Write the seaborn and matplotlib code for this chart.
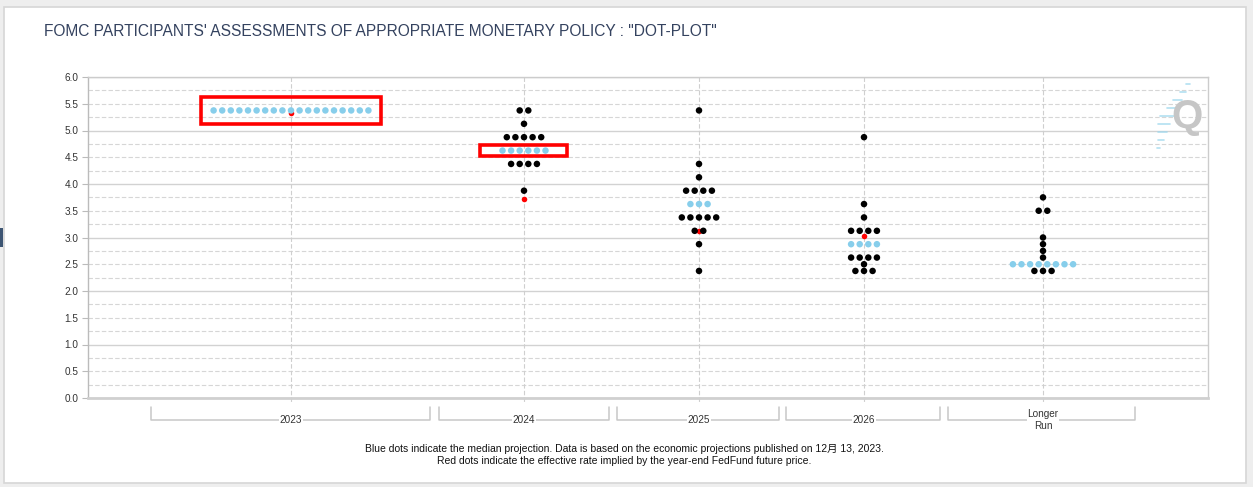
import numpy as np
import pandas as pd
import seaborn as sns
import matplotlib.pyplot as plt
import matplotlib.transforms as mtransforms
from matplotlib.patches import Rectangle
import warnings
warnings.filterwarnings('ignore')

#----------------data----------------#
years = ['2023', '2024', '2025', '2026', 'Longer\nRun']

rates_2023 = [5.375]
counts_2023 = [19]
rates_2024 = [5.375, 5.125, 4.875, 4.625, 4.375, 3.875]
counts_2024 = [2, 1, 5, 6, 4, 1]
rates_2025 = [5.375, 4.375, 4.125, 3.875, 3.625, 3.375, 3.125, 2.875, 2.375]
counts_2025 = [1, 1, 1, 4, 3, 5, 2, 1, 1]
rates_2026 = [4.875, 3.625, 3.375, 3.125, 2.875, 2.625, 2.5, 2.375]
counts_2026 = [1, 1, 1, 4, 4, 4, 1, 3]
rates_lr = [3.75, 3.5, 3.0, 2.875, 2.75, 2.625, 2.5, 2.375]
counts_lr = [1, 2, 1, 1, 1, 1, 8, 3]

medians = [5.375, 4.625, 3.625, 2.875, 2.5]
futures = [5.33, 3.72, 3.12, 3.03]   # red dots, year-end fed fund futures
highlight_years = ['2023', '2024']

note1 = 'Blue dots indicate the median projection. Data is based on the economic projections published on 12月 13, 2023.'
note2 = 'Red dots indicate the effective rate implied by the year-end FedFund future price.'

#----------------layout----------------#
W, H = 1253, 487
centers = [203, 436, 611, 776, 955]          # column centres in pixel units of the plot
brackets = [(63, 342), (351, 521), (529, 691), (698, 852), (860, 1047)]
step = 8.6                                    # horizontal gap between dots
hl_pad = {'2023': (13, 0.26), '2024': (22, 0.107)}

all_rates = [rates_2023, rates_2024, rates_2025, rates_2026, rates_lr]
all_counts = [counts_2023, counts_2024, counts_2025, counts_2026, counts_lr]

rows = []
for i, yr in enumerate(years):
    for v, n in zip(all_rates[i], all_counts[i]):
        for k in range(n):
            rows.append({'year': yr, 'x': centers[i] + (k - (n - 1) / 2) * step,
                         'rate': v, 'kind': 'median' if v == medians[i] else 'other'})
df = pd.DataFrame(rows)
df_red = pd.DataFrame({'year': years[:len(futures)], 'x': centers[:len(futures)], 'rate': futures})

sns.set_style('white')
plt.rcParams['font.family'] = ['Liberation Sans', 'Noto Sans CJK JP', 'DejaVu Sans']
narrow = ['Liberation Sans Narrow', 'Liberation Sans', 'Noto Sans CJK JP']

fig = plt.figure(figsize=(W / 100, H / 100), dpi=100, facecolor='#eeeeee')
fig.patches.append(Rectangle((4 / W, 1 - 483 / H), 1242 / W, 476 / H, transform=fig.transFigure,
                             facecolor='white', edgecolor='#d6d6d6', lw=1.2, zorder=-2))
fig.patches.append(Rectangle((0, 1 - 247 / H), 3 / W, 19 / H, transform=fig.transFigure,
                             facecolor='#3d5573', lw=0, zorder=-2))

ax = fig.add_axes([88 / W, 1 - 398 / H, 1120 / W, 321 / H])
ax.set_facecolor('none')

# grid: solid at whole percents, dashed at quarters
for v in np.arange(0, 6.01, 0.25):
    if v % 1 == 0:
        ax.axhline(v, color='#d2d2d2', lw=1.0, zorder=0)
    else:
        ax.axhline(v, color='#d6d6d6', lw=0.8, ls=(0, (4, 2)), zorder=0)

blend = mtransforms.blended_transform_factory(ax.transData, ax.transAxes)
for c in centers:
    ax.plot([c, c], [1, -0.016], transform=blend, color='#cfcfcf', lw=0.8,
            ls=(0, (4, 2)), clip_on=False, zorder=0)

sns.scatterplot(data=df_red, x='x', y='rate', color='red', s=16, linewidth=0,
                ax=ax, zorder=2, legend=False)
sns.scatterplot(data=df, x='x', y='rate', hue='kind',
                palette={'median': '#87ceeb', 'other': 'black'},
                s=22, linewidth=0, ax=ax, zorder=3, legend=False)

# red highlight boxes around the median rows
for yr in highlight_years:
    i = years.index(yr)
    row = df[(df['year'] == yr) & (df['kind'] == 'median')]
    px, dy = hl_pad[yr]
    x0, x1 = row['x'].min() - px, row['x'].max() + px
    ax.add_patch(Rectangle((x0, medians[i] - dy), x1 - x0, 2 * dy, fill=False,
                           edgecolor='#ff0000', lw=2.6, zorder=4))

ax.set_xlim(0, 1120)
ax.set_ylim(0, 6)
ax.set_xticks([])
ax.set_yticks(np.arange(0, 6.01, 0.5))
ax.set_yticklabels([f'{v:.1f}' for v in np.arange(0, 6.01, 0.5)])
ax.tick_params(axis='y', length=4, width=0.8, color='#bbbbbb', labelsize=7.2,
               labelcolor='#333333', pad=3, left=True)
ax.set_xlabel('')
ax.set_ylabel('')
for s in ['top', 'right']:
    ax.spines[s].set_color('#cccccc')
    ax.spines[s].set_linewidth(1)
ax.spines['left'].set_color('#bbbbbb')
ax.spines['left'].set_linewidth(1)
ax.spines['bottom'].set_color('#d0d0d0')
ax.spines['bottom'].set_linewidth(2)

# category brackets under the axis
for (a, b), yr, c in zip(brackets, years, centers):
    ax.plot([a, a, b, b], [-0.028, -0.0685, -0.0685, -0.028], transform=blend,
            color='#c8c8c8', lw=1.1, clip_on=False)
    ax.text(c, -0.0685, yr, transform=blend, ha='center', va='center', fontsize=7.2,
            color='#333333', linespacing=1.15,
            bbox=dict(facecolor='white', edgecolor='none', pad=0.6))

fig.text(44 / W, 1 - 32 / H, 'FOMC PARTICIPANTS\' ASSESSMENTS OF APPROPRIATE MONETARY POLICY : "DOT-PLOT"',
         ha='left', va='center', fontsize=11.2, color='#34425f', family=narrow)
fig.text(624 / W, 1 - 449 / H, note1, ha='center', va='center', fontsize=7.5,
         color='#111111', family=narrow)
fig.text(624 / W, 1 - 461 / H, note2, ha='center', va='center', fontsize=7.5,
         color='#111111', family=narrow)

# watermark logo
fig.text(1187 / W, 1 - 117 / H, 'Q', ha='center', va='center', fontsize=29,
         fontweight='bold', color='#c6c6c6')
for yy, xx, ln in [(84, 1186, 4), (92, 1180, 6), (100, 1173, 9), (108, 1167, 11),
                   (116, 1160, 14), (124, 1158, 12), (132, 1158, 9), (140, 1158, 6), (148, 1157, 3)]:
    fig.lines.append(plt.Line2D([xx / W, (xx + ln) / W], [1 - yy / H, 1 - yy / H],
                                transform=fig.transFigure, color='#9fd8ee', lw=1.2, alpha=0.8))

fig.savefig('out.png', dpi=100, facecolor=fig.get_facecolor())
